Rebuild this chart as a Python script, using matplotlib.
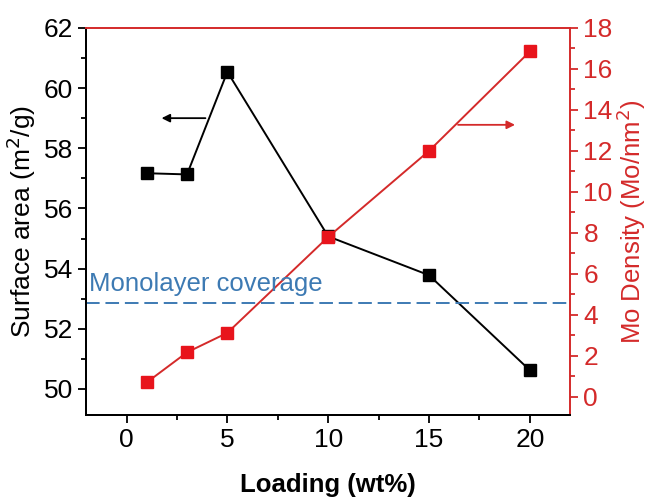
import matplotlib
matplotlib.use("Agg")
import matplotlib.pyplot as plt
from matplotlib.ticker import MultipleLocator, AutoMinorLocator

plt.rcParams['font.family'] = ['Liberation Sans', 'DejaVu Sans']

# Data
loading = [1, 3, 5, 10, 15, 20]
surface_area = [57.17, 57.13, 60.54, 55.07, 53.78, 50.62]
mo_density = [0.70, 2.17, 3.12, 7.80, 12.0, 16.85]
monolayer = 4.6

red = "#d42a2a"
blue = "#3d7ab3"

fig = plt.figure(figsize=(6.48, 4.98), dpi=100)
ax = fig.add_axes([0.133, 0.167, 0.747, 0.777])
ax2 = ax.twinx()

ax.plot(loading, surface_area, color="black", lw=1.4, marker="s", ms=8, zorder=3)
ax2.plot(loading, mo_density, color=red, lw=1.4, marker="s", ms=8, mfc="#e8141c", mec="#e8141c")
ax2.axhline(monolayer, color=blue, lw=1.4, ls=(0, (7, 3)))
ax2.text(-1.85, monolayer + 0.55, "Monolayer coverage", color=blue, fontsize=18.5)

# arrows pointing to the axes
ax.annotate("", xy=(1.6, 59.0), xytext=(4.05, 59.0),
            arrowprops=dict(arrowstyle="-|>", color="black", lw=1.3, mutation_scale=12))
ax2.annotate("", xy=(19.4, 13.27), xytext=(16.3, 13.27),
             arrowprops=dict(arrowstyle="-|>", color=red, lw=1.3, mutation_scale=12))

ax.set_xlim(-2, 22)
ax.set_ylim(49.14, 62)
ax2.set_ylim(-0.88, 18)

ax.xaxis.set_major_locator(MultipleLocator(5))
ax.xaxis.set_minor_locator(AutoMinorLocator(2))
ax.yaxis.set_major_locator(MultipleLocator(2))
ax.yaxis.set_minor_locator(AutoMinorLocator(2))
ax2.yaxis.set_major_locator(MultipleLocator(2))
ax2.yaxis.set_minor_locator(AutoMinorLocator(2))

ax.tick_params(axis="both", which="major", direction="out", length=6, width=1.3, labelsize=19)
ax.tick_params(axis="both", which="minor", direction="out", length=3.5, width=1.3)
ax2.tick_params(axis="y", which="major", direction="out", length=6, width=1.3,
                labelsize=19, colors=red)
ax2.tick_params(axis="y", which="minor", direction="out", length=3.5, width=1.3, colors=red)

for a in (ax, ax2):
    for s in a.spines.values():
        s.set_linewidth(1.4)
ax2.spines["left"].set_color("black")
ax2.spines["bottom"].set_color("black")
ax2.spines["right"].set_color(red)
ax2.spines["top"].set_color(red)
ax.spines["top"].set_visible(False)
ax.spines["right"].set_visible(False)

ax.set_xlabel("Loading (wt%)", fontsize=18.5, fontweight="bold", labelpad=15)
ax.set_ylabel("Surface area (m$^2$/g)", fontsize=19)
ax2.set_ylabel("Mo Density (Mo/nm$^2$)", fontsize=18.5, color=red, labelpad=1)

fig.savefig("out.png", dpi=100)
